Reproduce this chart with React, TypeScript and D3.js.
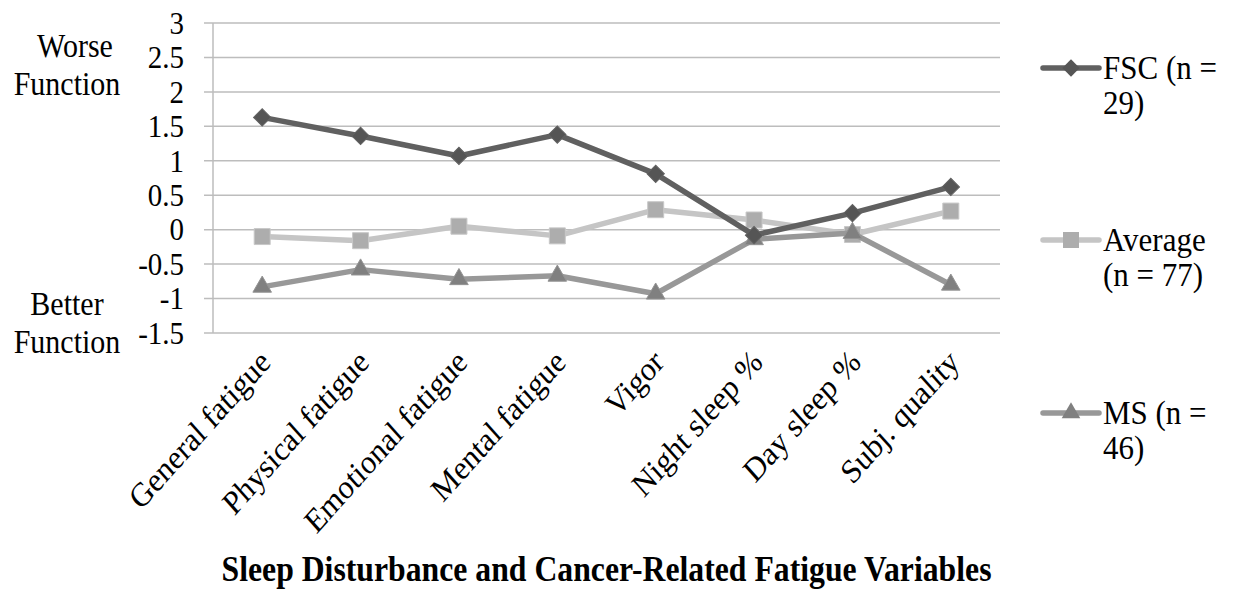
import React, { useEffect } from 'react';
import * as d3 from 'd3';

const categories = [
  'General fatigue',
  'Physical fatigue',
  'Emotional fatigue',
  'Mental fatigue',
  'Vigor',
  'Night sleep %',
  'Day sleep %',
  'Subj. quality',
];

const fscValues = [1.63, 1.36, 1.07, 1.38, 0.81, -0.08, 0.24, 0.62];
const averageValues = [-0.1, -0.16, 0.05, -0.09, 0.29, 0.14, -0.07, 0.27];
const msValues = [-0.83, -0.58, -0.72, -0.67, -0.93, -0.14, -0.05, -0.8];

const yTicks = [-1.5, -1, -0.5, 0, 0.5, 1, 1.5, 2, 2.5, 3];

const legendLabels = [
  ['FSC (n =', '29)'],
  ['Average', '(n = 77)'],
  ['MS (n =', '46)'],
];

const W = 1233;
const H = 589;
const plot = { left: 213, right: 1000, top: 23, bottom: 333 };
const font = 'Liberation Serif, Tinos, DejaVu Serif, Noto Serif, serif';

type Series = {
  key: string;
  values: number[];
  line: string;
  fill: string;
  shape: 'diamond' | 'square' | 'triangle';
  legend: string[];
};

const series: Series[] = [
  { key: 'avg', values: averageValues, line: '#c5c5c5', fill: '#adadad', shape: 'square', legend: legendLabels[1] },
  { key: 'ms', values: msValues, line: '#989898', fill: '#808080', shape: 'triangle', legend: legendLabels[2] },
  { key: 'fsc', values: fscValues, line: '#606060', fill: '#555555', shape: 'diamond', legend: legendLabels[0] },
];

const legendOrder = ['fsc', 'avg', 'ms'];
const legendY = [68, 240, 413];

const markerPath = (shape: Series['shape']) => {
  if (shape === 'square') return d3.symbol(d3.symbolSquare, 256)()!;
  if (shape === 'triangle') return d3.symbol(d3.symbolTriangle, 150)()!;
  return d3.symbol(d3.symbolSquare, 150)()!;
};

// text in the source picture is slightly stretched vertically
const stretch = (tx: number, ty: number, extra = '') =>
  `translate(${tx},${ty}) scale(1,1.12)${extra}`;

export default function App() {
  useEffect(() => {
    document.body.style.margin = '0';
  }, []);

  const x = d3
    .scalePoint<string>()
    .domain(categories)
    .range([plot.left, plot.right])
    .padding(0.5);
  const y = d3.scaleLinear().domain([-1.5, 3]).range([plot.bottom, plot.top]);

  const line = d3
    .line<number>()
    .x((_, i) => x(categories[i])!)
    .y((d) => y(d));

  return (
    <svg width={W} height={H} style={{ display: 'block', background: '#fff' }}>
      <g fontFamily={font}>
      {/* grid + y ticks */}
      {yTicks.map((t) => (
        <g key={t}>
          <line x1={plot.left - 9} x2={plot.right} y1={y(t)} y2={y(t)} stroke="#bdbdbd" strokeWidth={1.5} />
          <text transform={stretch(184, y(t))} dy="0.33em" textAnchor="end" fontSize={29} fill="#000">
            {t}
          </text>
        </g>
      ))}
      <line x1={plot.left} x2={plot.left} y1={plot.top} y2={plot.bottom} stroke="#bdbdbd" strokeWidth={1.5} />

      {/* side annotations */}
      <g fontSize={30} textAnchor="middle" fill="#000">
        <text transform={stretch(75, 57)}>Worse</text>
        <text transform={stretch(67, 95)}>Function</text>
        <text transform={stretch(67, 315)}>Better</text>
        <text transform={stretch(67, 353)}>Function</text>
      </g>

      {/* series */}
      {series.map((s) => (
        <g key={s.key}>
          <path d={line(s.values)!} fill="none" stroke={s.line} strokeWidth={5.5} strokeLinejoin="round" />
          {s.values.map((v, i) => (
            <path
              key={i}
              d={markerPath(s.shape)}
              transform={`translate(${x(categories[i])},${y(v)})${s.shape === 'diamond' ? ' rotate(45)' : ''}`}
              fill={s.fill}
              stroke={d3.color(s.fill)!.brighter(0.4).toString()}
              strokeWidth={1}
            />
          ))}
        </g>
      ))}

      {/* category labels */}
      {categories.map((c) => (
        <text
          key={c}
          transform={stretch(x(c)! + 10, 364, ' rotate(-45)')}
          textAnchor="end"
          fontSize={30}
          fill="#000"
        >
          {c}
        </text>
      ))}

      {/* legend */}
      {legendOrder.map((k, i) => {
        const s = series.find((d) => d.key === k)!;
        const ly = legendY[i];
        return (
          <g key={k}>
            <line x1={1043} x2={1099} y1={ly} y2={ly} stroke={s.line} strokeWidth={5.5} strokeLinecap="round" />
            <path
              d={markerPath(s.shape)}
              transform={`translate(1071,${ly})${s.shape === 'diamond' ? ' rotate(45)' : ''}`}
              fill={s.fill}
            />
            <text transform={stretch(1103, ly + 11)} fontSize={31} fill="#000">
              {s.legend[0]}
            </text>
            <text transform={stretch(1103, ly + 46)} fontSize={31} fill="#000">
              {s.legend[1]}
            </text>
          </g>
        );
      })}

      {/* x title */}
      <text
        transform={stretch((plot.left + plot.right) / 2, 581)}
        textAnchor="middle"
        fontSize={32}
        fontWeight="bold"
        textLength={770}
        lengthAdjust="spacingAndGlyphs"
        fill="#000"
      >
        Sleep Disturbance and Cancer-Related Fatigue Variables
      </text>
      </g>
    </svg>
  );
}
